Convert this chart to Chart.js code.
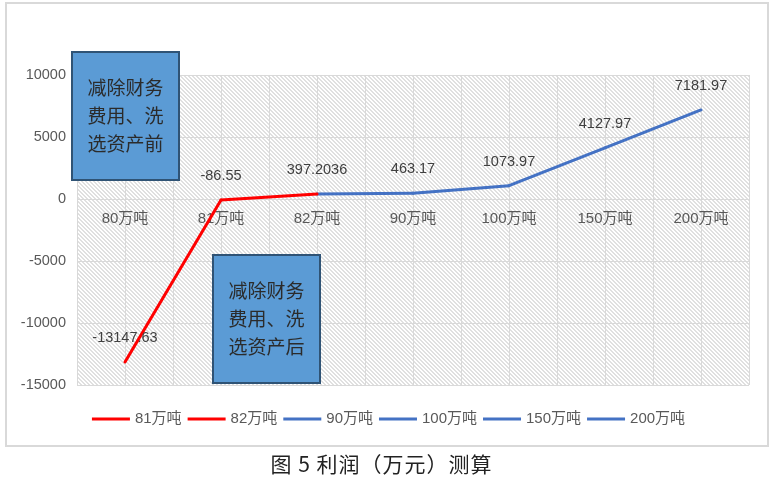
<!DOCTYPE html>
<html>
<head>
<meta charset="utf-8">
<script src="https://cdn.jsdelivr.net/npm/chart.js@4.4.1/dist/chart.umd.min.js"></script>
<style>
html, body { margin: 0; padding: 0; background: #fff; }
#wrap { position: relative; width: 777px; height: 484px; }
#frame { position: absolute; left: 5px; top: 2px; width: 760px; height: 441px; border: 2px solid #D9D9D9; }
#myChart { position: absolute; left: 0; top: 0; }
#caption { position: absolute; left: 0; top: 448px; width: 763px; line-height: 30px; text-align: center;
  font-size: 21px; letter-spacing: 1px; font-family: 'Noto Sans CJK SC', sans-serif; color: #222; }
</style>
</head>
<body>
<div id="wrap">
  <div id="frame"></div>
  <canvas id="myChart" width="777" height="484"></canvas>
  <div id="caption">图 5 利润（万元）测算</div>
</div>
<script>
const categories = ['80万吨', '81万吨', '82万吨', '90万吨', '100万吨', '150万吨', '200万吨'];
const profit = [-13147.63, -86.55, 397.2036, 463.17, 1073.97, 4127.97, 7181.97];
const seriesNames = ['81万吨', '82万吨', '90万吨', '100万吨', '150万吨', '200万吨'];
const yTicks = [-15000, -10000, -5000, 0, 5000, 10000];
const noteBefore = ['减除财务', '费用、洗', '选资产前'];
const noteAfter = ['减除财务', '费用、洗', '选资产后'];

const RED = '#FF0000';
const BLUE = '#4472C4';
const segColors = [RED, RED, BLUE, BLUE, BLUE, BLUE];
const FONT = "'Liberation Sans', 'Noto Sans CJK SC', sans-serif";
const CJK = "'Noto Sans CJK SC', sans-serif";

// each legend entry is one segment, ending at its category
const datasets = seriesNames.map((name, k) => ({
  label: name,
  data: [{x: k, y: profit[k]}, {x: k + 1, y: profit[k + 1]}],
  borderColor: segColors[k],
  backgroundColor: segColors[k],
  borderWidth: 3,
  borderCapStyle: 'round',
  borderJoinStyle: 'round',
  pointRadius: 0,
  tension: 0
}));

const hatch = {
  id: 'hatch',
  beforeDraw(chart) {
    const {ctx, chartArea: a} = chart;
    const tile = document.createElement('canvas');
    tile.width = 4; tile.height = 4;
    const t = tile.getContext('2d');
    t.fillStyle = '#fff';
    t.fillRect(0, 0, 4, 4);
    t.fillStyle = '#E0E0E0';
    for (let y = 0; y < 4; y++) {
      t.fillRect(y % 4, y, 1, 1);
      t.fillRect((y + 1) % 4, y, 1, 1);
    }
    ctx.save();
    ctx.fillStyle = ctx.createPattern(tile, 'repeat');
    ctx.fillRect(a.left, a.top, a.right - a.left, a.bottom - a.top);
    ctx.restore();
  }
};

const valueLabels = {
  id: 'valueLabels',
  afterDatasetsDraw(chart) {
    const {ctx, scales: {x, y}} = chart;
    ctx.save();
    ctx.font = '14.5px ' + FONT;
    ctx.fillStyle = '#404040';
    ctx.textAlign = 'center';
    ctx.textBaseline = 'middle';
    profit.forEach((v, i) => {
      ctx.fillText(String(v), x.getPixelForValue(i), y.getPixelForValue(v) - 24);
    });
    ctx.restore();
  }
};

const notes = {
  id: 'notes',
  afterDraw(chart) {
    const {ctx} = chart;
    const boxes = [
      {left: 72, top: 52, lines: noteBefore},
      {left: 213, top: 255, lines: noteAfter}
    ];
    ctx.save();
    boxes.forEach(b => {
      const w = 107, h = 128;
      ctx.fillStyle = '#5B9BD5';
      ctx.fillRect(b.left, b.top, w, h);
      ctx.strokeStyle = '#2F5375';
      ctx.lineWidth = 2;
      ctx.strokeRect(b.left, b.top, w, h);
      ctx.font = '19px ' + CJK;
      ctx.fillStyle = '#2B2B2B';
      ctx.textAlign = 'center';
      ctx.textBaseline = 'middle';
      b.lines.forEach((s, j) => {
        ctx.fillText(s, b.left + w / 2, b.top + h / 2 + (j - 1) * 28);
      });
    });
    ctx.restore();
  }
};

const lineLegend = {
  id: 'lineLegend',
  afterDraw(chart) {
    const {ctx} = chart;
    const ds = chart.data.datasets;
    const lineLen = 38, gap = 5, itemGap = 6, yy = 419;
    ctx.save();
    ctx.font = '15px ' + FONT;
    const widths = ds.map(d => ctx.measureText(d.label).width);
    let total = widths.reduce((s, w) => s + lineLen + gap + w, 0) + itemGap * (ds.length - 1);
    let cx = (chart.width - total) / 2;
    ds.forEach((d, i) => {
      ctx.strokeStyle = d.borderColor;
      ctx.lineWidth = 3;
      ctx.beginPath();
      ctx.moveTo(cx, yy);
      ctx.lineTo(cx + lineLen, yy);
      ctx.stroke();
      ctx.fillStyle = '#595959';
      ctx.textAlign = 'left';
      ctx.textBaseline = 'middle';
      ctx.fillText(d.label, cx + lineLen + gap, yy);
      cx += lineLen + gap + widths[i] + itemGap;
    });
    ctx.restore();
  }
};

new Chart(document.getElementById('myChart'), {
  type: 'line',
  data: { datasets },
  options: {
    responsive: false,
    animation: false,
    layout: { padding: { top: 75, right: 28, bottom: 99, left: 0 } },
    plugins: { legend: { display: false }, tooltip: { enabled: false } },
    scales: {
      x: {
        type: 'linear',
        position: { y: 0 },
        min: -0.5,
        max: categories.length - 0.5,
        grid: { color: '#D9D9D9', lineWidth: 1, drawTicks: false },
        border: { color: '#D9D9D9' },
        ticks: {
          stepSize: 0.5,
          autoSkip: false,
          maxRotation: 0,
          padding: 11,
          color: '#595959',
          font: { size: 15, family: FONT },
          callback: v => Number.isInteger(v) ? categories[v] : ''
        }
      },
      y: {
        min: yTicks[0],
        max: yTicks[yTicks.length - 1],
        afterFit: s => { s.width = 77; },
        grid: { color: '#D9D9D9', lineWidth: 1, drawTicks: false },
        border: { display: false },
        ticks: {
          stepSize: yTicks[1] - yTicks[0],
          padding: 11,
          color: '#595959',
          font: { size: 14.5, family: FONT },
          callback: v => String(v)
        }
      }
    }
  },
  plugins: [hatch, valueLabels, notes, lineLegend]
});
</script>
</body>
</html>
